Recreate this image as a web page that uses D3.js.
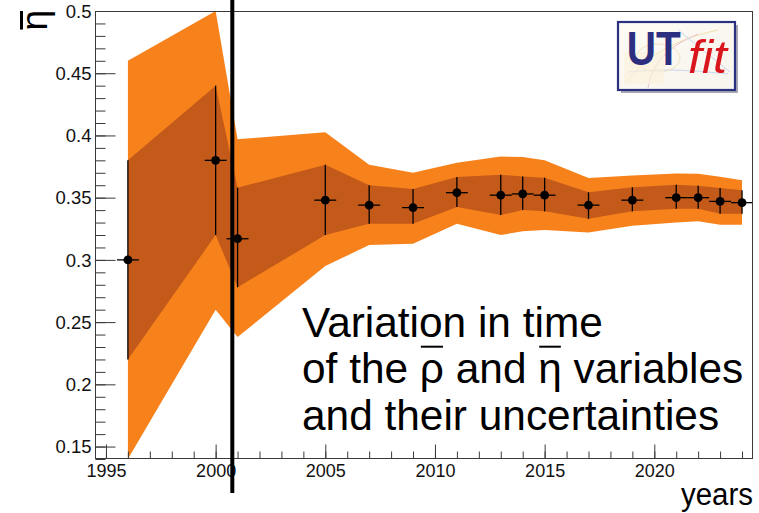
<!DOCTYPE html>
<html>
<head>
<meta charset="utf-8">
<script src="https://cdn.jsdelivr.net/npm/d3@7"></script>
<style>
  html, body { margin: 0; padding: 0; background: #fff; }
  svg { display: block; }
  text { font-family: "Liberation Sans", Arial, sans-serif; }
</style>
</head>
<body>
<svg id="chart" width="759" height="513"></svg>
<script>
// ---- data ----
const years    = [1996, 2000, 2001, 2005, 2007, 2009, 2011, 2013, 2014, 2015, 2017, 2019, 2021, 2022, 2023, 2024];
const etaBar   = [0.300, 0.380, 0.317, 0.348, 0.344, 0.342, 0.354, 0.352, 0.353, 0.352, 0.344, 0.348, 0.350, 0.350, 0.347, 0.346];
const sigma1Lo = [0.220, 0.320, 0.278, 0.320, 0.329, 0.329, 0.3425, 0.336, 0.340, 0.339, 0.333, 0.339, 0.341, 0.341, 0.337, 0.337];
const sigma1Hi = [0.380, 0.440, 0.358, 0.3765, 0.360, 0.357, 0.3666, 0.3685, 0.367, 0.366, 0.3543, 0.3583, 0.3604, 0.3596, 0.3578, 0.3559];
const sigma2Lo = [0.140, 0.260, 0.238, 0.295, 0.312, 0.313, 0.329, 0.320, 0.323, 0.324, 0.322, 0.3275, 0.330, 0.331, 0.3283, 0.3283];
const sigma2Hi = [0.460, 0.500, 0.397, 0.4025, 0.3765, 0.370, 0.378, 0.383, 0.3826, 0.380, 0.3658, 0.3679, 0.3695, 0.3693, 0.3669, 0.364];
const xHalfWidth = 0.5;
const xDomain = [1994.5, 2024.5];
const yDomain = [0.14, 0.5];
const xMajorTicks = [1995, 2000, 2005, 2010, 2015, 2020];
const yMajorTicks = [0.15, 0.2, 0.25, 0.3, 0.35, 0.4, 0.45, 0.5];
const yTickLabels = ["0.15", "0.2", "0.25", "0.3", "0.35", "0.4", "0.45", "0.5"];
const dividerYear = 2000.76;
const noteLines = ["Variation in time", "of the \u03C1 and \u03B7 variables", "and their uncertainties"];
const xTitle = "years";
const yTitle = "\u03B7";

// ---- layout ----
const svg = d3.select("#chart");
const L = 95, R = 753, T = 11, B = 459;
const x = d3.scaleLinear().domain(xDomain).range([L, R]);
const y = d3.scaleLinear().domain(yDomain).range([B, T]);

const data = years.map((yr, i) => ({
  yr, v: etaBar[i], lo1: sigma1Lo[i], hi1: sigma1Hi[i], lo2: sigma2Lo[i], hi2: sigma2Hi[i]
}));

// bands
svg.append("path").datum(data)
  .attr("fill", "#f7821c")
  .attr("d", d3.area().x(d => x(d.yr)).y0(d => y(d.lo2)).y1(d => y(d.hi2)));
svg.append("path").datum(data)
  .attr("fill", "#c45a1a")
  .attr("d", d3.area().x(d => x(d.yr)).y0(d => y(d.lo1)).y1(d => y(d.hi1)));

// error bars
const eb = svg.append("g").attr("stroke", "#000").attr("stroke-width", 1.3);
eb.selectAll("line.v").data(data).join("line")
  .attr("x1", d => x(d.yr)).attr("x2", d => x(d.yr))
  .attr("y1", d => y(d.lo1)).attr("y2", d => y(d.hi1));
eb.selectAll("line.h").data(data).join("line")
  .attr("x1", d => x(d.yr - xHalfWidth)).attr("x2", d => x(d.yr + xHalfWidth))
  .attr("y1", d => y(d.v)).attr("y2", d => y(d.v));
svg.append("g").selectAll("circle").data(data).join("circle")
  .attr("cx", d => x(d.yr)).attr("cy", d => y(d.v)).attr("r", 4.4).attr("fill", "#000");

// frame
svg.append("rect").attr("x", L + 0.5).attr("y", T + 0.5)
  .attr("width", R - L - 1).attr("height", B - T - 1)
  .attr("fill", "none").attr("stroke", "#3a3a3a").attr("stroke-width", 1);

// y axis
const yMinor = d3.range(14, 51).map(v => v / 100);
const yAxMinor = svg.append("g").attr("transform", `translate(${L + 0.5},0)`)
  .call(d3.axisLeft(y).tickValues(yMinor).tickSize(-10).tickFormat(""));
yAxMinor.select(".domain").remove();
const yAx = svg.append("g").attr("transform", `translate(${L + 0.5},0)`)
  .call(d3.axisLeft(y).tickValues(yMajorTicks).tickSize(-20).tickPadding(4)
    .tickFormat((d, i) => yTickLabels[i]));
yAx.select(".domain").remove();
yAx.selectAll("text").attr("font-size", 18.5).attr("font-family", "Liberation Sans, Arial, sans-serif")
  .attr("fill", "#111").attr("dy", "0.34em");

// x axis
const xMinor = d3.range(1995, 2025);
const xAxMinor = svg.append("g").attr("transform", `translate(0,${B - 0.5})`)
  .call(d3.axisBottom(x).tickValues(xMinor).tickSize(-7).tickFormat(""));
xAxMinor.select(".domain").remove();
const xAx = svg.append("g").attr("transform", `translate(0,${B - 0.5})`)
  .call(d3.axisBottom(x).tickValues(xMajorTicks).tickSize(-14).tickPadding(5.5).tickFormat(d3.format("d")));
xAx.select(".domain").remove();
xAx.selectAll("text").attr("font-size", 18).attr("font-family", "Liberation Sans, Arial, sans-serif")
  .attr("fill", "#111");
svg.selectAll(".tick line").attr("stroke", "#3a3a3a");

// axis titles
svg.append("text").attr("x", R).attr("y", 505).attr("text-anchor", "end")
  .attr("font-size", 31).attr("textLength", 72).attr("lengthAdjust", "spacingAndGlyphs")
  .attr("fill", "#000").text(xTitle);
const yt = svg.append("g").attr("transform", "translate(47,10) rotate(-90)");
const ytText = yt.append("text").attr("x", 0).attr("y", 0).attr("text-anchor", "end")
  .attr("font-size", 37).attr("fill", "#000").text(yTitle);
const ytW = ytText.node().getComputedTextLength();
yt.append("line").attr("x1", -ytW + 1).attr("x2", -1).attr("y1", -25.5).attr("y2", -25.5)
  .attr("stroke", "#000").attr("stroke-width", 3);

// annotation text
const note = svg.append("g");
const baselines = [336.7, 383.3, 430];
const noteTexts = noteLines.map((s, i) =>
  note.append("text").attr("x", 302).attr("y", baselines[i]).attr("font-size", 42.4)
    .attr("fill", "#000").text(s));
const l2 = noteTexts[1].node();
const s2 = noteLines[1];
[s2.indexOf("\u03C1"), s2.indexOf("\u03B7")].forEach(idx => {
  const st = l2.getStartPositionOfChar(idx).x;
  const en = l2.getEndPositionOfChar(idx).x;
  note.append("line").attr("x1", st + 1).attr("x2", en - 1)
    .attr("y1", 346.7).attr("y2", 346.7).attr("stroke", "#000").attr("stroke-width", 2);
});

// divider line
svg.append("line").attr("x1", x(dividerYear)).attr("x2", x(dividerYear))
  .attr("y1", 0).attr("y2", 493).attr("stroke", "#000").attr("stroke-width", 4);

// UTfit logo
const logo = svg.append("g").attr("transform", "translate(618,22)");
logo.append("rect").attr("x", 3).attr("y", 3).attr("width", 117).attr("height", 68).attr("fill", "#a9a9b4");
const grad = svg.append("defs").append("linearGradient").attr("id", "lg").attr("x1", 0).attr("x2", 1).attr("y1", 0).attr("y2", 1);
grad.append("stop").attr("offset", "0%").attr("stop-color", "#fdfbf4");
grad.append("stop").attr("offset", "100%").attr("stop-color", "#f8f4ee");
logo.append("rect").attr("x", 0).attr("y", 0).attr("width", 117).attr("height", 68)
  .attr("fill", "url(#lg)").attr("stroke", "#2c3082").attr("stroke-width", 2.2);
const sk = logo.append("g").attr("fill", "none").attr("stroke-width", 1);
sk.append("path").attr("d", "M8,60 Q40,20 100,8").attr("stroke", "#f2dfa8");
sk.append("path").attr("d", "M10,50 Q50,45 110,52").attr("stroke", "#c9d6ee");
sk.append("path").attr("d", "M30,66 Q35,30 80,12").attr("stroke", "#e9c4d6");
sk.append("path").attr("d", "M60,8 L112,50").attr("stroke", "#c9d6ee");
sk.append("ellipse").attr("cx", 40).attr("cy", 36).attr("rx", 22).attr("ry", 14).attr("stroke", "#f0e2c0");
sk.append("rect").attr("x", 6).attr("y", 30).attr("width", 40).attr("height", 32).attr("fill", "#fbf1da").attr("stroke", "none").attr("opacity", 0.6);
logo.append("text").attr("x", 8.7).attr("y", 42.7).attr("font-size", 49).attr("font-weight", "bold")
  .attr("textLength", 54).attr("lengthAdjust", "spacingAndGlyphs")
  .attr("fill", "#2c2f80").text("UT");
logo.append("text").attr("x", 70).attr("y", 51).attr("font-size", 46).attr("font-style", "italic")
  .attr("font-family", "Liberation Serif, Times New Roman, serif")
  .attr("textLength", 39).attr("lengthAdjust", "spacingAndGlyphs")
  .attr("fill", "#d8161c").text("fit");
</script>
</body>
</html>
